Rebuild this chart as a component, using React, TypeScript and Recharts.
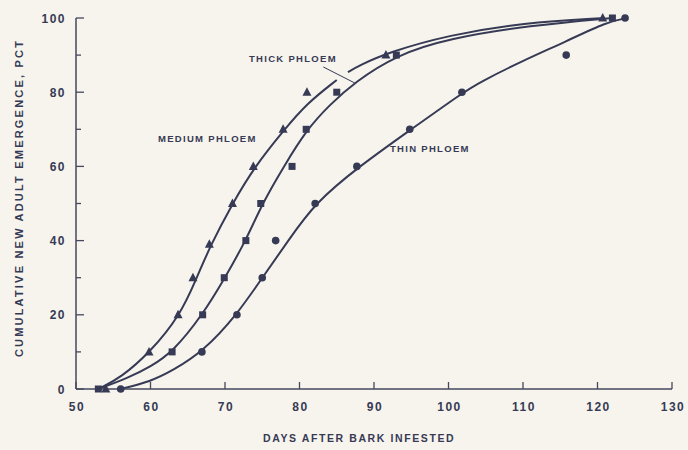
import { ComposedChart, Line, Scatter, XAxis, YAxis, ReferenceLine } from 'recharts'

// axis ticks
const xTicks = [50, 60, 70, 80, 90, 100, 110, 120, 130]
const yTicks = [0, 10, 20, 30, 40, 50, 60, 70, 80, 90, 100]

// observed emergence (markers)
const mediumDays = [54, 59.8, 63.7, 65.7, 67.9, 71, 73.8, 77.8, 81, 91.6, 120.7]
const mediumPct = [0, 10, 20, 30, 39, 50, 60, 70, 80, 90, 100]
const thickDays = [53, 62.9, 67, 69.9, 72.8, 74.8, 79, 80.9, 85, 93, 122]
const thickPct = [0, 10, 20, 30, 40, 50, 60, 70, 80, 90, 100]
const thinDays = [56, 66.9, 71.6, 75, 76.8, 82.1, 87.7, 94.8, 101.8, 115.8, 123.7]
const thinPct = [0, 10, 20, 30, 40, 50, 60, 70, 80, 90, 100]

// fitted curves
const mediumCurveDays = [53, 56, 60, 64, 66, 68, 71, 74, 78, 81, 85]
const mediumCurvePct = [0, 3, 10, 20, 29, 38.5, 50, 60, 70, 77, 83.3]
const mediumCurve2Days = [86.5, 88, 92, 100, 110, 121]
const mediumCurve2Pct = [85.4, 87.2, 90.8, 95.4, 98.7, 100]
const thickCurveDays = [53, 57, 60, 63, 67, 70, 72.8, 75, 77.9, 81, 84, 87.4, 93, 100, 111, 122]
const thickCurvePct = [0, 3, 6, 10, 20, 30, 40, 50, 60, 70, 76.5, 82.7, 90, 94.5, 98, 100]
const thinCurveDays = [56, 60, 63, 67, 71.6, 75, 78.5, 82, 88, 95, 102, 104.2, 110, 115.6, 121.3, 124]
const thinCurvePct = [0, 2, 5, 10, 20, 30, 40, 50, 60, 70, 80, 82.7, 88.5, 93.5, 99, 100]

// leader line under "THICK PHLOEM"
const thickLeader = [{ x: 83.2, y: 86.8 }, { x: 87.4, y: 82.5 }]

const zip = (xs: number[], ys: number[]) => xs.map((x, i) => ({ x, y: ys[i] }))

const INK = '#373a55'
const AXIS = '#45485f'
const FONT = '"Liberation Sans", Arial, sans-serif'

const Triangle = ({ cx, cy }: any) => (
  <polygon points={`${cx},${cy - 5} ${cx - 4.5},${cy + 3.5} ${cx + 4.5},${cy + 3.5}`} fill={INK} />
)
const Square = ({ cx, cy }: any) => <rect x={cx - 3.5} y={cy - 3.5} width={7} height={7} fill={INK} />
const Dot = ({ cx, cy }: any) => <circle cx={cx} cy={cy} r={3.8} fill={INK} />

const YTick = ({ x, y, payload }: any) => {
  const ax = x + 10
  const major = payload.value % 20 === 0
  return (
    <g>
      <line x1={ax} x2={ax + (major ? 8 : 5)} y1={y} y2={y} stroke={AXIS} strokeWidth={1.3} />
      {major && (
        <text x={x} y={y + 4.5} textAnchor="end" fill={INK} fontFamily={FONT} fontWeight="bold" fontSize={12} letterSpacing={1.5}>
          {payload.value}
        </text>
      )}
    </g>
  )
}

const XTick = ({ x, y, payload }: any) => {
  const ay = y - 8
  return (
    <g>
      <line x1={x} x2={x} y1={ay} y2={ay - 7} stroke={AXIS} strokeWidth={1.3} />
      <text x={x + 1} y={ay + 22} textAnchor="middle" fill={INK} fontFamily={FONT} fontWeight="bold" fontSize={12} letterSpacing={1.5}>
        {payload.value}
      </text>
    </g>
  )
}

const labelStyle: React.CSSProperties = {
  position: 'absolute',
  fontFamily: FONT,
  fontWeight: 'bold',
  color: INK,
  whiteSpace: 'nowrap',
}

export default function App() {
  return (
    <div style={{ position: 'absolute', left: 0, top: 0, width: 688, height: 450, background: '#f6f4ec' }}>
      <ComposedChart width={688} height={450} margin={{ top: 18, right: 16, bottom: 31, left: 16 }}>
        <XAxis
          type="number"
          dataKey="x"
          domain={[50, 130]}
          ticks={xTicks}
          interval={0}
          height={30}
          tickSize={0}
          tickMargin={8}
          tick={<XTick />}
          axisLine={{ stroke: AXIS, strokeWidth: 1.5 }}
          tickLine={false}
        />
        <YAxis
          type="number"
          dataKey="y"
          domain={[0, 100]}
          ticks={yTicks}
          interval={0}
          width={60}
          tickSize={0}
          tickMargin={10}
          tick={<YTick />}
          axisLine={{ stroke: AXIS, strokeWidth: 1.5 }}
          tickLine={false}
        />
        <Line data={zip(mediumCurveDays, mediumCurvePct)} dataKey="y" type="basis" dot={false} stroke={INK} strokeWidth={2} isAnimationActive={false} />
        <Line data={zip(mediumCurve2Days, mediumCurve2Pct)} dataKey="y" type="basis" dot={false} stroke={INK} strokeWidth={2} isAnimationActive={false} />
        <Line data={zip(thickCurveDays, thickCurvePct)} dataKey="y" type="basis" dot={false} stroke={INK} strokeWidth={2} isAnimationActive={false} />
        <Line data={zip(thinCurveDays, thinCurvePct)} dataKey="y" type="basis" dot={false} stroke={INK} strokeWidth={2} isAnimationActive={false} />
        <ReferenceLine segment={thickLeader} stroke={INK} strokeWidth={1} ifOverflow="visible" />
        <Scatter data={zip(mediumDays, mediumPct)} shape={<Triangle />} isAnimationActive={false} />
        <Scatter data={zip(thickDays, thickPct)} shape={<Square />} isAnimationActive={false} />
        <Scatter data={zip(thinDays, thinPct)} shape={<Dot />} isAnimationActive={false} />
      </ComposedChart>
      <div style={{ ...labelStyle, left: 249, top: 53, fontSize: 9.5, letterSpacing: 1.3 }}>THICK PHLOEM</div>
      <div style={{ ...labelStyle, left: 158, top: 133, fontSize: 9.5, letterSpacing: 1.3 }}>MEDIUM PHLOEM</div>
      <div style={{ ...labelStyle, left: 390, top: 143, fontSize: 9.5, letterSpacing: 1.3 }}>THIN PHLOEM</div>
      <div style={{ ...labelStyle, left: 263, top: 432, fontSize: 10.5, letterSpacing: 1.6 }}>DAYS AFTER BARK INFESTED</div>
      <div
        style={{
          ...labelStyle,
          left: 19,
          top: 198,
          fontSize: 11,
          letterSpacing: 2.2,
          transform: 'translate(-50%, -50%) rotate(-90deg)',
        }}
      >
        CUMULATIVE NEW ADULT EMERGENCE, PCT
      </div>
    </div>
  )
}
